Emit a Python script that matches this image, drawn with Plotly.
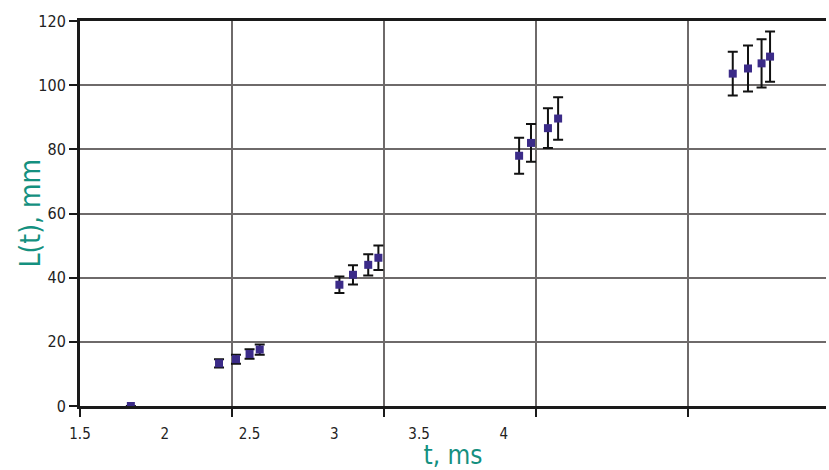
import plotly.graph_objects as go

# data
t_ms = [1.80, 2.32, 2.42, 2.50, 2.56,
        3.03, 3.11, 3.20, 3.26,
        4.09, 4.16, 4.26, 4.32,
        5.35, 5.44, 5.52, 5.57]
L_mm = [0.0, 13.3, 14.6, 16.2, 17.6,
        37.8, 40.9, 44.0, 46.2,
        78.0, 82.0, 86.6, 89.6,
        103.6, 105.2, 106.8, 108.9]
L_err = [0.0, 1.3, 1.4, 1.5, 1.6,
         2.6, 3.0, 3.3, 3.8,
         5.6, 5.9, 6.2, 6.6,
         6.8, 7.2, 7.5, 7.8]
x_ticks = [1.5, 2, 2.5, 3, 3.5, 4]
x_tick_text = ["1.5", "2", "2.5", "3", "3.5", "4"]
y_ticks = [0, 20, 40, 60, 80, 100, 120]

FONT = "Liberation Sans Narrow, DejaVu Sans Condensed, Arial Narrow, sans-serif"
TEAL = "#14907f"
GRID = "#6e6a6a"

fig = go.Figure()
fig.add_trace(go.Scatter(
    x=t_ms, y=L_mm, mode="markers",
    marker=dict(symbol="square", size=8, color="#3b2b88"),
    error_y=dict(type="data", array=L_err, color="#111111", thickness=2, width=5),
    xaxis="x", yaxis="y", showlegend=False,
))
# empty trace so the grid axis is drawn
fig.add_trace(go.Scatter(x=[], y=[], xaxis="x2", yaxis="y", showlegend=False))

fig.update_layout(
    width=829, height=470,
    margin=dict(l=80, r=3, t=21, b=64),
    paper_bgcolor="white", plot_bgcolor="white",
    font=dict(family=FONT, size=16, color="#222222"),
    xaxis=dict(
        range=[1.5, 5.90], tickvals=x_ticks, ticktext=x_tick_text,
        tickfont=dict(size=15),
        showgrid=False, zeroline=False, ticks="", ticklabelstandoff=12,
        showline=True, linecolor="#1a1a1a", linewidth=3, mirror=True,
        title=dict(text="t, ms", font=dict(family=FONT, size=26, color=TEAL), standoff=6),
    ),
    xaxis2=dict(
        overlaying="x", side="bottom", range=[0, 4.908], tick0=0, dtick=1,
        showgrid=True, gridcolor=GRID, gridwidth=2, zeroline=False,
        ticks="outside", ticklen=10, tickwidth=2, tickcolor="#1a1a1a",
        showticklabels=False, showline=False,
    ),
    yaxis=dict(
        range=[0, 120], tickvals=y_ticks,
        showgrid=True, gridcolor=GRID, gridwidth=2, zeroline=False,
        ticks="outside", ticklen=8, tickwidth=2, tickcolor="#1a1a1a",
        showline=True, linecolor="#1a1a1a", linewidth=3,
    ),
    annotations=[dict(
        text="L(t), mm", textangle=-90, showarrow=False,
        xref="paper", yref="paper", x=0, y=0.5, xanchor="center", yanchor="middle",
        xshift=-50, font=dict(family=FONT, size=28, color=TEAL),
    )],
)

fig.write_html("out.html")
